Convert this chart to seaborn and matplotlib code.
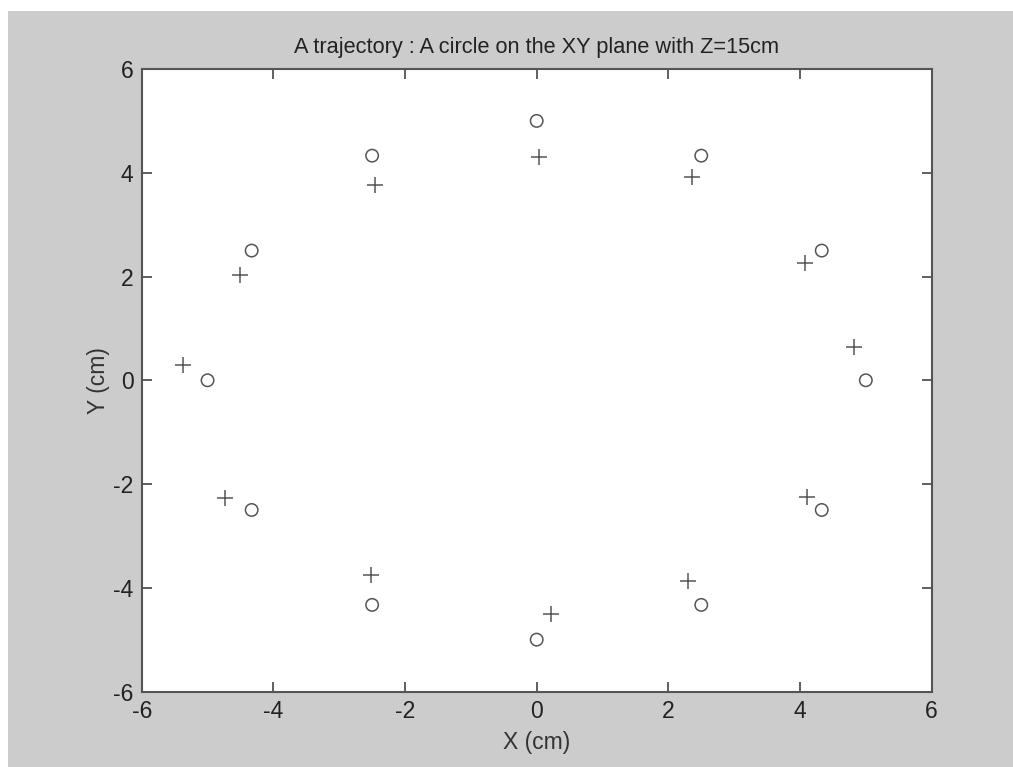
import matplotlib
matplotlib.use('Agg')
import matplotlib.pyplot as plt
import seaborn as sns
import pandas as pd
from matplotlib.patches import Rectangle

# Desired trajectory points (circle, radius 5 cm)
circle_x = [5.0, 4.33, 2.5, 0.0, -2.5, -4.33, -5.0, -4.33, -2.5, 0.0, 2.5, 4.33]
circle_y = [0.0, 2.5, 4.33, 5.0, 4.33, 2.5, 0.0, -2.5, -4.33, -5.0, -4.33, -2.5]

# Measured points (+)
plus_x = [4.82, 4.08, 2.36, 0.03, -2.46, -4.51, -5.37, -4.73, -2.52, 0.22, 2.30, 4.11]
plus_y = [0.65, 2.27, 3.92, 4.30, 3.76, 2.03, 0.29, -2.27, -3.75, -4.50, -3.87, -2.25]

ticks = [-6, -4, -2, 0, 2, 4, 6]

sns.set_style('ticks')
plt.rcParams['font.family'] = ['Liberation Sans', 'DejaVu Sans']
plt.rcParams['axes.unicode_minus'] = False

bg = '#cccccc'
ink = '#444444'

fig = plt.figure(figsize=(10.13, 7.67), dpi=100, facecolor='white')
fig.patches.append(Rectangle((8 / 1013, 0), 1, (767 - 11) / 767, transform=fig.transFigure,
                             facecolor=bg, edgecolor='none', zorder=-1))
ax = fig.add_axes([0.1399, 0.0984, 0.7798, 0.8116])
ax.set_facecolor('white')

circles = pd.DataFrame({'x': circle_x, 'y': circle_y})
pluses = pd.DataFrame({'x': plus_x, 'y': plus_y})

sns.scatterplot(data=circles, x='x', y='y', ax=ax, marker='o', s=80,
                facecolor='none', edgecolor='#555555', linewidth=1.1)
sns.scatterplot(data=pluses, x='x', y='y', ax=ax, marker='+', s=120,
                color='#555555', linewidth=1.1)

ax.set_xlim(-6, 6)
ax.set_ylim(-6, 6)
ax.set_xticks(ticks)
ax.set_yticks(ticks)
ax.tick_params(direction='in', length=7, width=1.2, color=ink, labelsize=16.5,
               labelcolor='#222222', top=True, right=True, pad=6)
for side in ax.spines.values():
    side.set_visible(True)
    side.set_color('#555555')
    side.set_linewidth(1.5)

ax.set_title('A trajectory : A circle on the XY plane with Z=15cm', fontsize=15.7,
             color='#222222', pad=11.5)
ax.set_xlabel('X (cm)', fontsize=16.5, color='#333333', labelpad=6)
ax.set_ylabel('Y (cm)', fontsize=16.5, color='#333333', labelpad=2)

fig.savefig('out.png', dpi=100, facecolor=fig.get_facecolor())
